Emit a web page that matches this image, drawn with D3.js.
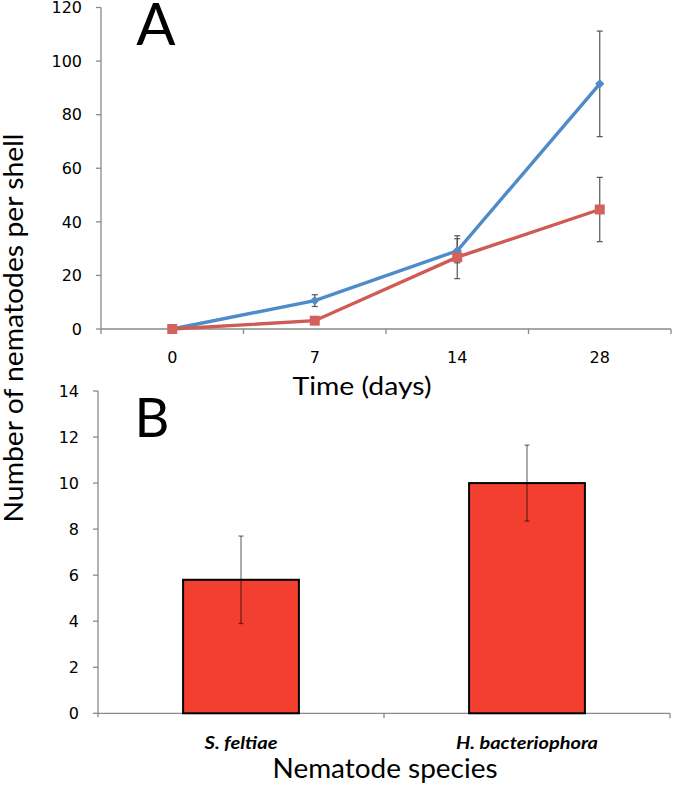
<!DOCTYPE html>
<html><head><meta charset="utf-8">
<script src="https://cdn.jsdelivr.net/npm/d3@7"></script>
<style>body{margin:0;background:#fff}svg{display:block}text{font-family:Lato,"Open Sans",sans-serif;fill:#000}.tk{font-family:"DejaVu Sans",sans-serif}</style>
</head><body>
<svg id="c" width="675" height="785"></svg>
<script>
// Panel A data
const days = ["0", "7", "14", "28"];
const seriesBlue = [0, 10.6, 29.2, 91.5];
const errBlue = [0, 2.2, 4.5, 19.7];
const seriesRed = [0, 3.1, 26.8, 44.6];
const errRed = [0, 0, 8, 12];
const yTicksA = [0, 20, 40, 60, 80, 100, 120];
// Panel B data
const species = ["S. feltiae", "H. bacteriophora"];
const speciesValues = [5.8, 10.0];
const speciesErr = [1.9, 1.65];
const yTicksB = [0, 2, 4, 6, 8, 10, 12, 14];

const svg = d3.select("#c");
const axisColor = "#8a8a8a";

// ---------- Panel A ----------
const xA = d3.scaleBand().domain(days).range([101, 671]);
const yA = d3.scaleLinear().domain([0, 120]).range([329, 7.5]);

const gA = svg.append("g");
gA.append("line").attr("x1", 101).attr("x2", 101).attr("y1", yA(120)).attr("y2", yA(0))
  .attr("stroke", axisColor).attr("stroke-width", 1.3);
gA.append("line").attr("x1", 101).attr("x2", 671).attr("y1", yA(0)).attr("y2", yA(0))
  .attr("stroke", axisColor).attr("stroke-width", 1.3);
yTicksA.forEach(t => {
  gA.append("line").attr("x1", 96).attr("x2", 101).attr("y1", yA(t)).attr("y2", yA(t))
    .attr("stroke", axisColor).attr("stroke-width", 1.3);
  gA.append("text").attr("class", "tk").attr("x", 82).attr("y", yA(t)).attr("dy", "0.36em")
    .attr("text-anchor", "end").attr("font-size", 16).text(t);
});
const xBoundsA = days.map(d => xA(d)).concat([xA.range()[1]]);
xBoundsA.forEach(x => {
  gA.append("line").attr("x1", x).attr("x2", x).attr("y1", yA(0)).attr("y2", yA(0) + 5)
    .attr("stroke", axisColor).attr("stroke-width", 1.3);
});
days.forEach(d => {
  gA.append("text").attr("class", "tk").attr("x", xA(d) + xA.bandwidth() / 2).attr("y", 363)
    .attr("text-anchor", "middle").attr("font-size", 16).text(d);
});
gA.append("text").attr("x", 362).attr("y", 395).attr("text-anchor", "middle")
  .attr("font-size", 25).attr("textLength", 139).attr("lengthAdjust", "spacingAndGlyphs").text("Time (days)");
gA.append("text").attr("x", 156).attr("y", 45).attr("text-anchor", "middle")
  .attr("font-size", 58).text("A");

const cx = d => xA(d) + xA.bandwidth() / 2;
function errBars(g, vals, errs) {
  days.forEach((d, i) => {
    if (!errs[i]) return;
    const x = cx(d), top = yA(vals[i] + errs[i]), bot = yA(vals[i] - errs[i]);
    g.append("line").attr("x1", x).attr("x2", x).attr("y1", top).attr("y2", bot)
      .attr("stroke", "#555").attr("stroke-width", 1.2);
    [top, bot].forEach(y => g.append("line").attr("x1", x - 3).attr("x2", x + 3)
      .attr("y1", y).attr("y2", y).attr("stroke", "#555").attr("stroke-width", 1.2));
  });
}
errBars(gA, seriesBlue, errBlue);
errBars(gA, seriesRed, errRed);

const line = d3.line().x((v, i) => cx(days[i])).y(v => yA(v));
gA.append("path").datum(seriesBlue).attr("d", line).attr("fill", "none")
  .attr("stroke", "#4f8bc9").attr("stroke-width", 3.4);
gA.append("path").datum(seriesRed).attr("d", line).attr("fill", "none")
  .attr("stroke", "#cf5b55").attr("stroke-width", 3.4);
seriesBlue.forEach((v, i) => {
  gA.append("path").attr("d", d3.symbol(d3.symbolDiamond2, 55)())
    .attr("transform", `translate(${cx(days[i])},${yA(v)})`).attr("fill", "#4f8bc9");
});
seriesRed.forEach((v, i) => {
  gA.append("rect").attr("x", cx(days[i]) - 5).attr("y", yA(v) - 5)
    .attr("width", 10).attr("height", 10).attr("fill", "#d2625b");
});

// Shared y label
svg.append("text").attr("transform", "translate(23,328) rotate(-90)")
  .attr("text-anchor", "middle").attr("font-size", 27.5)
  .attr("textLength", 389).attr("lengthAdjust", "spacingAndGlyphs").text("Number of nematodes per shell");

// ---------- Panel B ----------
const xB = d3.scaleBand().domain(species).range([98, 670]).paddingInner(0.595).paddingOuter(0.2975);
const yB = d3.scaleLinear().domain([0, 14]).range([713.3, 391]);
const gB = svg.append("g");
gB.append("line").attr("x1", 98).attr("x2", 98).attr("y1", yB(14)).attr("y2", yB(0) + 4)
  .attr("stroke", axisColor).attr("stroke-width", 1.3);
gB.append("line").attr("x1", 98).attr("x2", 670).attr("y1", yB(0)).attr("y2", yB(0))
  .attr("stroke", axisColor).attr("stroke-width", 1.3);
yTicksB.forEach(t => {
  gB.append("line").attr("x1", 93).attr("x2", 98).attr("y1", yB(t)).attr("y2", yB(t))
    .attr("stroke", axisColor).attr("stroke-width", 1.3);
  gB.append("text").attr("class", "tk").attr("x", 79).attr("y", yB(t)).attr("dy", "0.36em")
    .attr("text-anchor", "end").attr("font-size", 16).text(t);
});
const stepB = xB.step();
[98 + stepB, 670].forEach(x => {
  gB.append("line").attr("x1", x).attr("x2", x).attr("y1", yB(0)).attr("y2", yB(0) + 5)
    .attr("stroke", axisColor).attr("stroke-width", 1.3);
});
const labelLen = [73, 142];
species.forEach((s, i) => {
  const x = xB(s);
  gB.append("rect").attr("x", x).attr("y", yB(speciesValues[i]))
    .attr("width", xB.bandwidth()).attr("height", yB(0) - yB(speciesValues[i]))
    .attr("fill", "#f23f2f").attr("stroke", "#000").attr("stroke-width", 2);
  const c = x + xB.bandwidth() / 2;
  const top = yB(speciesValues[i] + speciesErr[i]), bot = yB(speciesValues[i] - speciesErr[i]);
  gB.append("line").attr("x1", c).attr("x2", c).attr("y1", top).attr("y2", bot)
    .attr("stroke", "#000").attr("stroke-opacity", 0.5).attr("stroke-width", 1.3);
  [top, bot].forEach(y => gB.append("line").attr("x1", c - 2.5).attr("x2", c + 2.5)
    .attr("y1", y).attr("y2", y).attr("stroke", "#000").attr("stroke-opacity", 0.5).attr("stroke-width", 1.3));
  gB.append("text").attr("x", c).attr("y", 749).attr("text-anchor", "middle")
    .attr("font-size", 16.5).attr("font-style", "italic").attr("font-weight", 700)
    .attr("textLength", labelLen[i]).attr("lengthAdjust", "spacingAndGlyphs").text(s);
});
gB.append("text").attr("x", 385).attr("y", 778).attr("text-anchor", "middle")
  .attr("font-size", 26).attr("textLength", 225).attr("lengthAdjust", "spacingAndGlyphs").text("Nematode species");
gB.append("text").attr("x", 152).attr("y", 437).attr("text-anchor", "middle")
  .attr("font-size", 54).text("B");
</script>
</body></html>
